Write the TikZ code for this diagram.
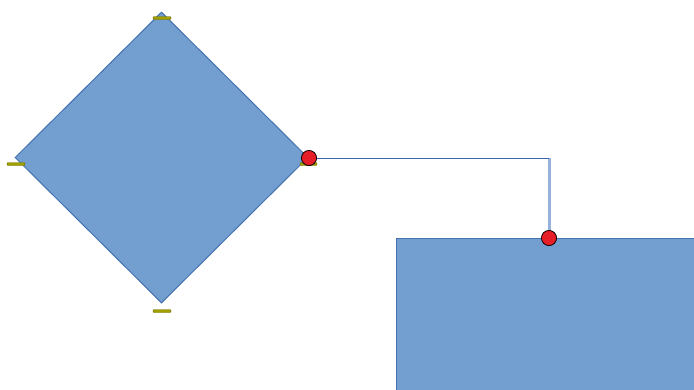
\documentclass[tikz,border=0pt]{standalone}
\usetikzlibrary{shapes.geometric}
\definecolor{shapefill}{RGB}{114,159,207}
\definecolor{shapeline}{RGB}{69,114,176}
\definecolor{linkcol}{RGB}{60,100,170}
\definecolor{linklight}{RGB}{150,178,220}
\definecolor{markcol}{RGB}{160,160,0}
\definecolor{dotred}{RGB}{230,30,40}
\tikzset{
  px/.style={x=1pt,y=-1pt},
  shapebox/.style={fill=shapefill,draw=shapeline,line width=1pt},
  gluemark/.style={fill=markcol,draw=markcol!70!black,line width=0.4pt,rounded corners=1pt},
  reddot/.style={circle,fill=dotred,draw=black,line width=0.6pt,minimum size=15pt,inner sep=0pt},
}
\begin{document}
\begin{tikzpicture}[px]
\useasboundingbox (0,0) rectangle (694,389);
\clip (0,0) rectangle (694,389);
% diamond
\node[diamond,shapebox,minimum width=293pt,minimum height=291pt,inner sep=0pt] (dia) at (161.5,157.5) {};
% rectangle
\node[shapebox,anchor=north west,minimum width=320pt,minimum height=170pt,inner sep=0pt] (rect) at (396,238) {};
% markers
\fill[gluemark] (153,16.5) rectangle (171,19.5);
\fill[gluemark] (7,162.5) rectangle (25,165.5);
\fill[gluemark] (153,309.5) rectangle (171,312.5);
\fill[gluemark] (300,162.5) rectangle (317,165.5);
% connector
\coordinate (bend) at (549,158);
\node[reddot] (d1) at (309,158) {};
\node[reddot] (d2) at (549,238) {};
\draw[linklight,line width=3pt] (bend) -- (d2.north);
\draw[linkcol,line width=1pt] (d1.east) -- (bend);
\node[reddot] at (d1) {};
\node[reddot] at (d2) {};
\end{tikzpicture}
\end{document}
